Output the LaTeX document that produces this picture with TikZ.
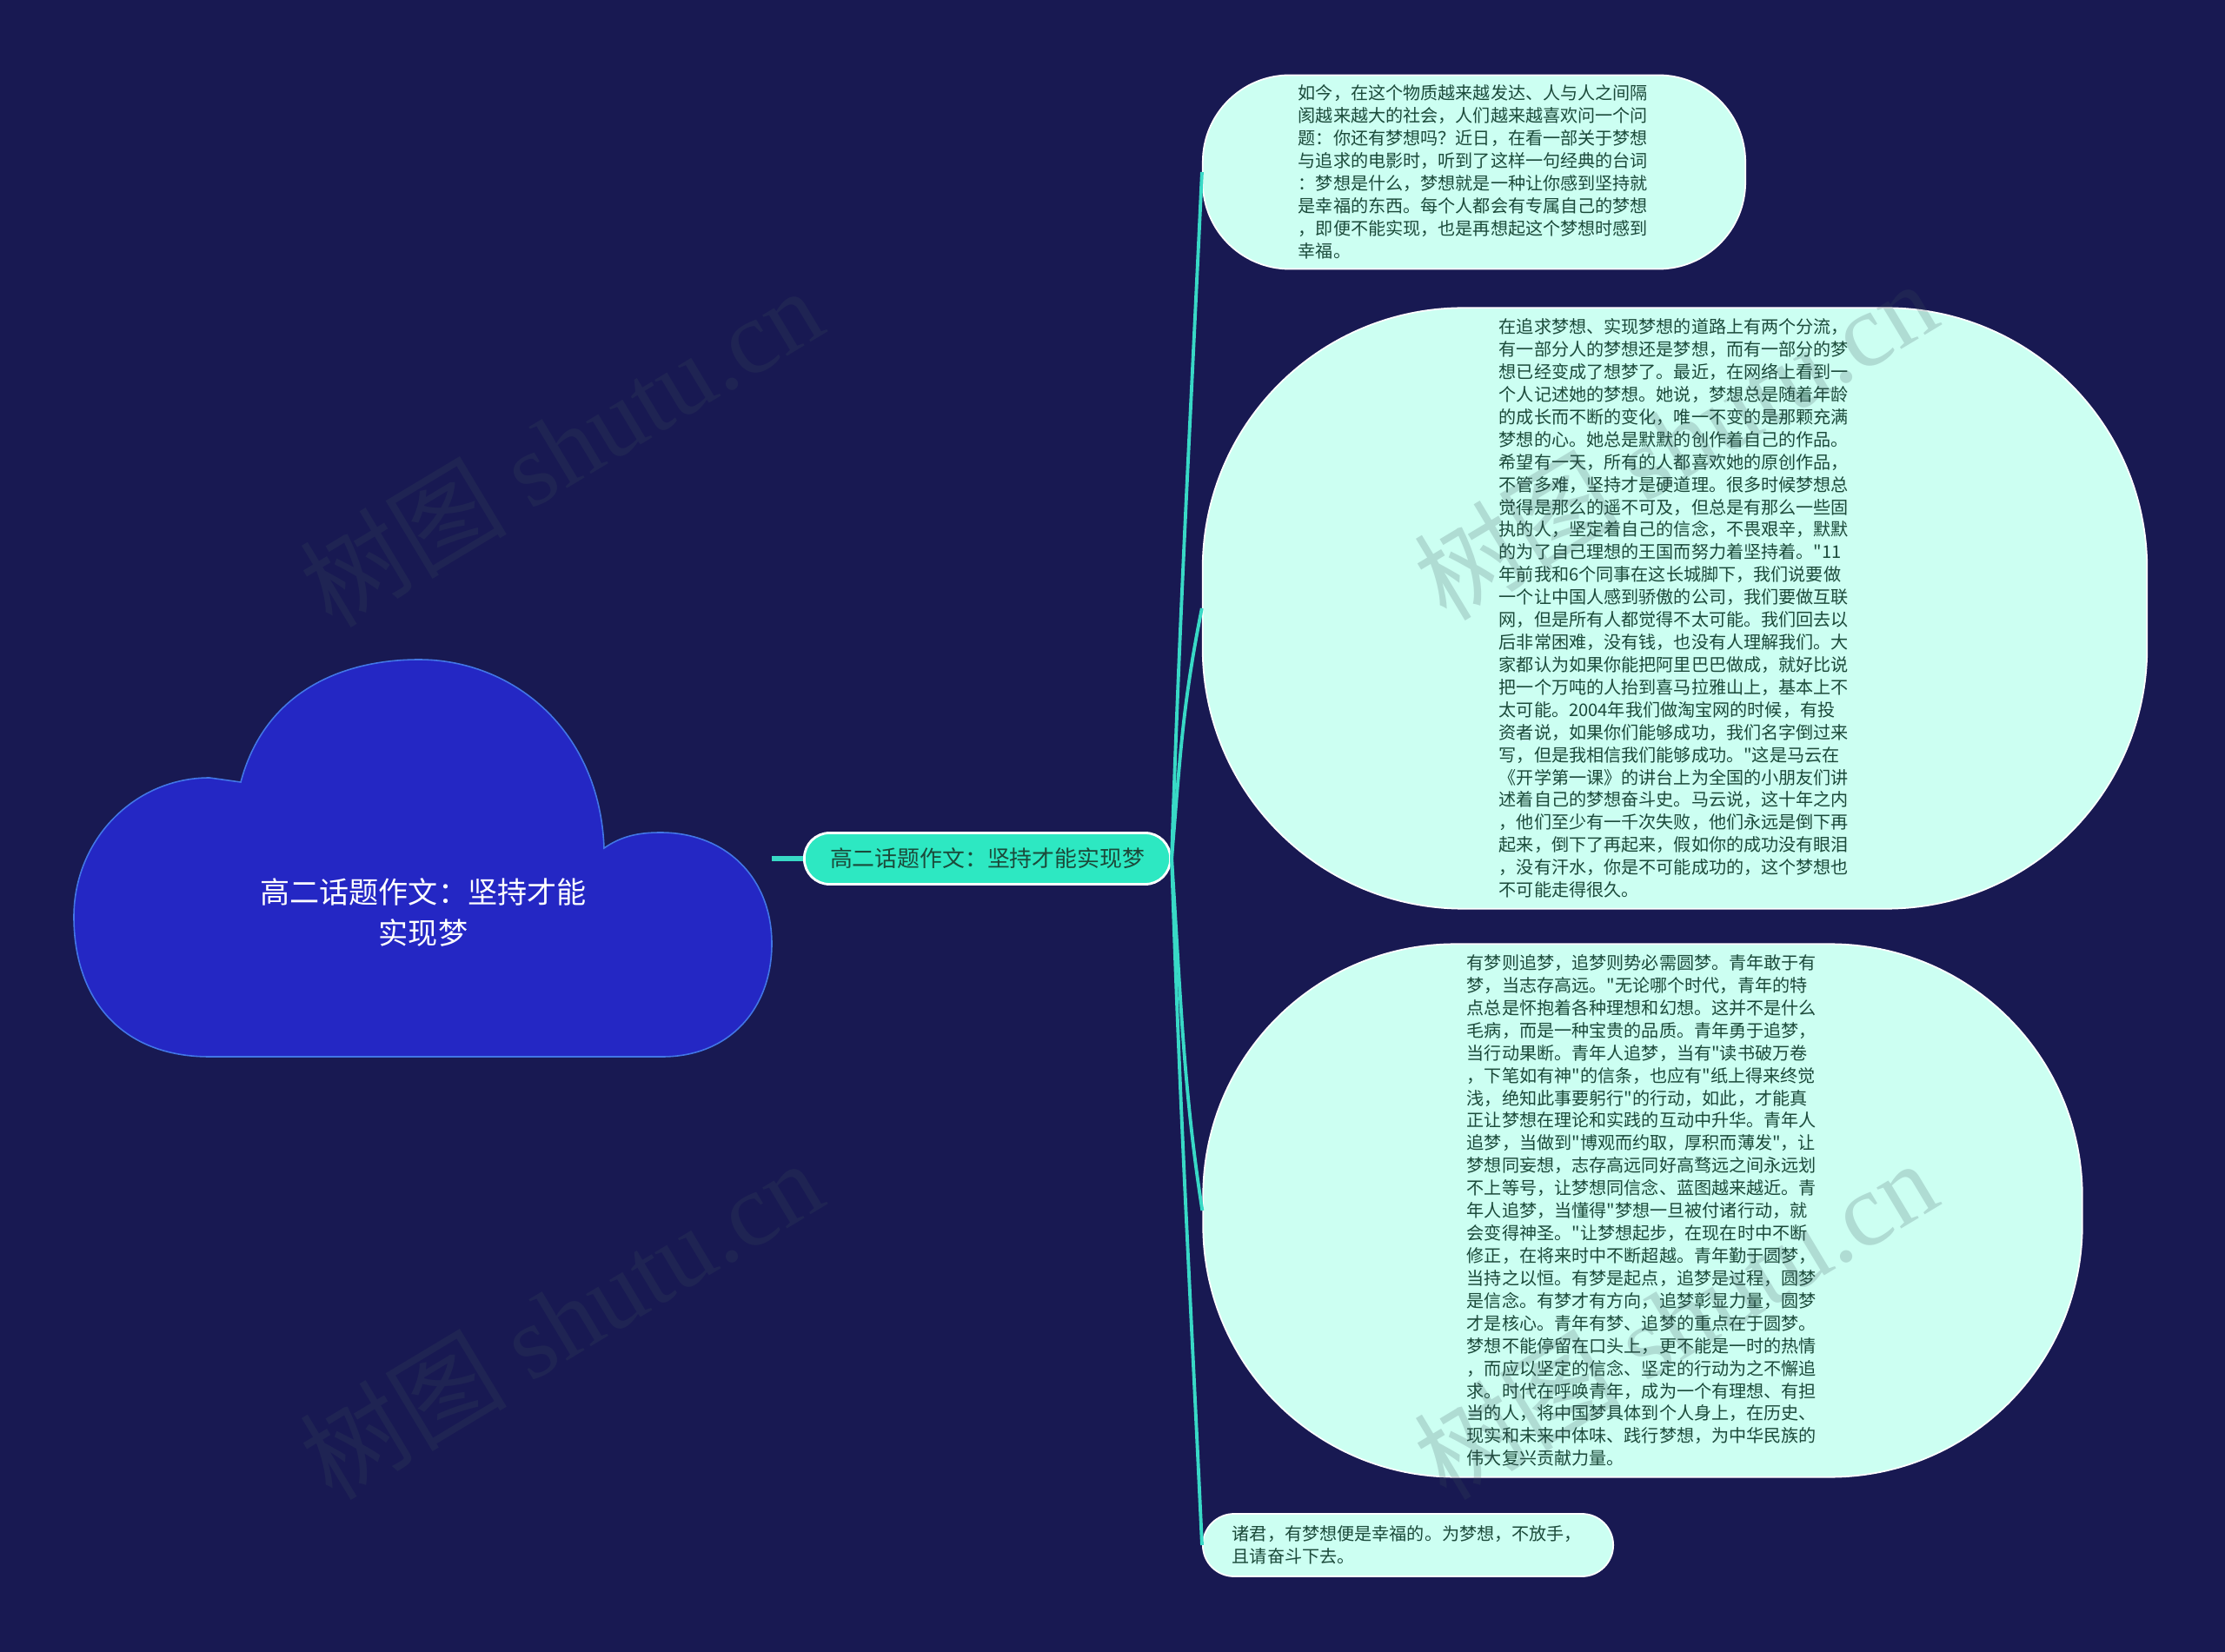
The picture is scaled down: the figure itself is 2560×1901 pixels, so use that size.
\documentclass[tikz,border=0pt]{standalone}
\usepackage{fontspec}
\setmainfont{Noto Sans CJK SC}
\newfontfamily\cjk{Noto Sans CJK SC}
\newfontfamily\wmserif{Liberation Serif}
\definecolor{bg}{HTML}{181952}
\definecolor{cloudfill}{HTML}{2427C4}
\definecolor{cloudline}{HTML}{4276E6}
\definecolor{topicfill}{HTML}{2DE8C2}
\definecolor{leaffill}{HTML}{CCFFF2}
\definecolor{leaftext}{HTML}{1B4A3A}
\definecolor{linkcol}{HTML}{38D9C6}
\definecolor{wmcol}{HTML}{3C505A}

\begin{document}
\begin{tikzpicture}[x=0.01cm,y=-0.01cm,
        leaf/.style={draw=white, line width=0.5pt, fill=leaffill,
                        text=leaftext, inner sep=0pt, align=left,
                        text width=115pt, font=\cjk\fontsize{5.72}{7.37}\selectfont},
        topic/.style={draw=white, line width=0.8pt, fill=topicfill,
                        text=leaftext, rounded corners=0.29cm, inner sep=0pt,
                        minimum width=4.21cm, minimum height=0.59cm,
                        font=\cjk\fontsize{7.35}{9}\selectfont},
        link/.style={draw=linkcol, line width=1.1pt},
        wm/.style={text=wmcol, opacity=0.2, rotate=31,
                        font=\cjk\fontsize{34}{40}\selectfont}]
    \useasboundingbox (0,0) rectangle (2560,1901);
    \fill[bg] (0,0) rectangle (2560,1901);

    % root cloud
    \filldraw[fill=cloudfill, draw=cloudline, line width=0.45pt]
        (241,1216) .. controls (140,1216) and (85,1150) .. (85,1055)
        .. controls (85,966) and (155,895) .. (241,895) -- (277,900)
        .. controls (305,795) and (395,759) .. (482,759)
        .. controls (590,759) and (690,840) .. (695,976)
        .. controls (715,962) and (735,958) .. (760,958)
        .. controls (835,958) and (888,1010) .. (888,1086)
        .. controls (888,1160) and (840,1216) .. (762,1216) -- cycle;
    \node[text=white, align=center, font=\cjk\fontsize{9.7}{13.4}\selectfont]
        (root) at (487,1050) {高二话题作文：坚持才能\\实现梦};
    \coordinate (rootE) at (888,988);

    \node[topic] (topic) at (1136,988) {高二话题作文：坚持才能实现梦};
    \draw[link, line width=1.5pt] (rootE) -- (topic.west);

    \node[leaf, rounded corners=1cm, minimum width=6.24cm, minimum height=2.23cm]
        (l1) at (1696,198) {如今，在这个物质越来越发达、人与人之间隔\\
        阂越来越大的社会，人们越来越喜欢问一个问\\
        题：你还有梦想吗？近日，在看一部关于梦想\\
        与追求的电影时，听到了这样一句经典的台词\\
        ：梦想是什么，梦想就是一种让你感到坚持就\\
        是幸福的东西。每个人都会有专属自己的梦想\\
        ，即便不能实现，也是再想起这个梦想时感到\\
        幸福。};
    \node[leaf, rounded corners=3cm, minimum width=10.86cm, minimum height=6.91cm]
        (l2) at (1927,700) {在追求梦想、实现梦想的道路上有两个分流，\\
        有一部分人的梦想还是梦想，而有一部分的梦\\
        想已经变成了想梦了。最近，在网络上看到一\\
        个人记述她的梦想。她说，梦想总是随着年龄\\
        的成长而不断的变化，唯一不变的是那颗充满\\
        梦想的心。她总是默默的创作着自己的作品。\\
        希望有一天，所有的人都喜欢她的原创作品，\\
        不管多难，坚持才是硬道理。很多时候梦想总\\
        觉得是那么的遥不可及，但总是有那么一些固\\
        执的人，坚定着自己的信念，不畏艰辛，默默\\
        的为了自己理想的王国而努力着坚持着。"11\\
        年前我和6个同事在这长城脚下，我们说要做\\
        一个让中国人感到骄傲的公司，我们要做互联\\
        网，但是所有人都觉得不太可能。我们回去以\\
        后非常困难，没有钱，也没有人理解我们。大\\
        家都认为如果你能把阿里巴巴做成，就好比说\\
        把一个万吨的人抬到喜马拉雅山上，基本上不\\
        太可能。2004年我们做淘宝网的时候，有投\\
        资者说，如果你们能够成功，我们名字倒过来\\
        写，但是我相信我们能够成功。"这是马云在\\
        《开学第一课》的讲台上为全国的小朋友们讲\\
        述着自己的梦想奋斗史。马云说，这十年之内\\
        ，他们至少有一千次失败，他们永远是倒下再\\
        起来，倒下了再起来，假如你的成功没有眼泪\\
        ，没有汗水，你是不可能成功的，这个梦想也\\
        不可能走得很久。};
    \node[leaf, rounded corners=2.9cm, minimum width=10.11cm, minimum height=6.13cm]
        (l3) at (1890,1393) {有梦则追梦，追梦则势必需圆梦。青年敢于有\\
        梦，当志存高远。"无论哪个时代，青年的特\\
        点总是怀抱着各种理想和幻想。这并不是什么\\
        毛病，而是一种宝贵的品质。青年勇于追梦，\\
        当行动果断。青年人追梦，当有"读书破万卷\\
        ，下笔如有神"的信条，也应有"纸上得来终觉\\
        浅，绝知此事要躬行"的行动，如此，才能真\\
        正让梦想在理论和实践的互动中升华。青年人\\
        追梦，当做到"博观而约取，厚积而薄发"，让\\
        梦想同妄想，志存高远同好高骛远之间永远划\\
        不上等号，让梦想同信念、蓝图越来越近。青\\
        年人追梦，当懂得"梦想一旦被付诸行动，就\\
        会变得神圣。"让梦想起步，在现在时中不断\\
        修正，在将来时中不断超越。青年勤于圆梦，\\
        当持之以恒。有梦是起点，追梦是过程，圆梦\\
        是信念。有梦才有方向，追梦彰显力量，圆梦\\
        才是核心。青年有梦、追梦的重点在于圆梦。\\
        梦想不能停留在口头上，更不能是一时的热情\\
        ，而应以坚定的信念、坚定的行动为之不懈追\\
        求。时代在呼唤青年，成为一个有理想、有担\\
        当的人，将中国梦具体到个人身上，在历史、\\
        现实和未来中体味、践行梦想，为中华民族的\\
        伟大复兴贡献力量。};
    \node[leaf, rounded corners=0.36cm, minimum width=4.72cm, minimum height=0.72cm]
        (l4) at (1620,1778) {诸君，有梦想便是幸福的。为梦想，不放手，\\
        且请奋斗下去。};

    \draw[link] (topic.east) .. controls +(10,-300) and +(-14,300) .. (l1.west);
    \draw[link] (topic.east) .. controls +(10,-120) and +(-22,110) .. (l2.west);
    \draw[link] (topic.east) .. controls +(10,150) and +(-22,-140) .. (l3.west);
    \draw[link] (topic.east) .. controls +(10,300) and +(-14,-300) .. (l4.west);

    % watermarks
    \node[wm] (wm1) at (645,514) {树图 {\wmserif shutu.cn}};
    \node[wm] (wm2) at (645,1518) {树图 {\wmserif shutu.cn}};
    \node[wm] (wm3) at (1927,506) {树图 {\wmserif shutu.cn}};
    \node[wm] (wm4) at (1927,1518) {树图 {\wmserif shutu.cn}};
\end{tikzpicture}
\end{document}
